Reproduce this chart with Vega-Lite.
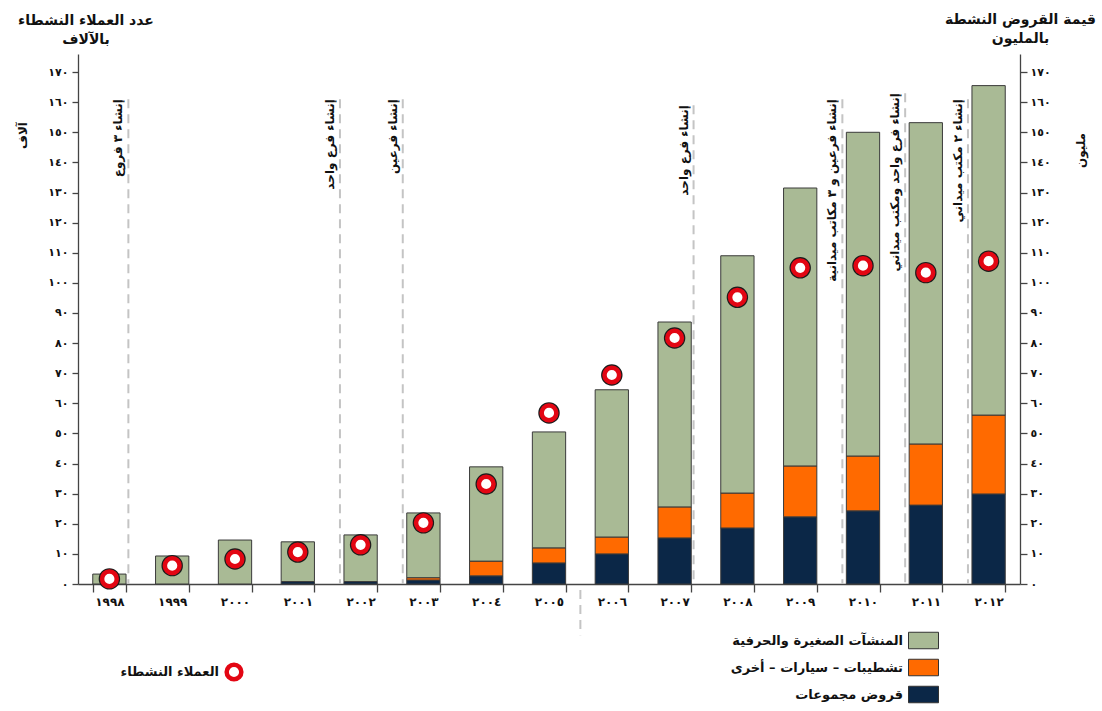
{
  "$schema": "https://vega.github.io/schema/vega-lite/v6.json",
  "width": 942,
  "height": 530,
  "autosize": "none",
  "padding": {"left": 78, "top": 54, "right": 82, "bottom": 127},
  "background": "white",
  "config": {
    "font": "DejaVu Sans",
    "view": {"stroke": null},
    "locale": {"number": {"decimal": "٫", "thousands": "٬", "grouping": [3], "currency": ["", ""], "numerals": ["٠", "١", "٢", "٣", "٤", "٥", "٦", "٧", "٨", "٩"]}},
    "axis": {"domainColor": "#444", "tickColor": "#444", "labelColor": "#111", "labelFontWeight": "bold", "labelFontSize": 11, "grid": false, "domainWidth": 1.3, "tickWidth": 1.3, "titleColor": "#111", "labelOverlap": false, "labelBound": false},
    "axisY": {"tickCount": 18, "labelOverlap": false},
    "legend": {"labelColor": "#111", "labelLimit": 0}
  },
  "title": {"text": ["عدد العملاء النشطاء", "بالآلاف"], "frame": "group", "anchor": "start", "align": "center", "dx": 8, "dy": 45, "offset": 10, "fontSize": 14, "fontWeight": "bold", "lineHeight": 19, "color": "#111"},
  "datasets": {
    "loans": [
      {"year": "١٩٩٨", "series": "المنشآت الصغيرة والحرفية", "value": 3.3},
      {"year": "١٩٩٩", "series": "المنشآت الصغيرة والحرفية", "value": 9.3},
      {"year": "٢٠٠٠", "series": "المنشآت الصغيرة والحرفية", "value": 14.6},
      {"year": "٢٠٠١", "series": "قروض مجموعات", "value": 0.8},
      {"year": "٢٠٠١", "series": "المنشآت الصغيرة والحرفية", "value": 13.2},
      {"year": "٢٠٠٢", "series": "قروض مجموعات", "value": 0.8},
      {"year": "٢٠٠٢", "series": "المنشآت الصغيرة والحرفية", "value": 15.5},
      {"year": "٢٠٠٣", "series": "قروض مجموعات", "value": 1.3},
      {"year": "٢٠٠٣", "series": "تشطيبات – سيارات – أخرى", "value": 0.8},
      {"year": "٢٠٠٣", "series": "المنشآت الصغيرة والحرفية", "value": 21.5},
      {"year": "٢٠٠٤", "series": "قروض مجموعات", "value": 2.7},
      {"year": "٢٠٠٤", "series": "تشطيبات – سيارات – أخرى", "value": 4.9},
      {"year": "٢٠٠٤", "series": "المنشآت الصغيرة والحرفية", "value": 31.3},
      {"year": "٢٠٠٥", "series": "قروض مجموعات", "value": 7},
      {"year": "٢٠٠٥", "series": "تشطيبات – سيارات – أخرى", "value": 5},
      {"year": "٢٠٠٥", "series": "المنشآت الصغيرة والحرفية", "value": 38.5},
      {"year": "٢٠٠٦", "series": "قروض مجموعات", "value": 10},
      {"year": "٢٠٠٦", "series": "تشطيبات – سيارات – أخرى", "value": 5.6},
      {"year": "٢٠٠٦", "series": "المنشآت الصغيرة والحرفية", "value": 48.9},
      {"year": "٢٠٠٧", "series": "قروض مجموعات", "value": 15.3},
      {"year": "٢٠٠٧", "series": "تشطيبات – سيارات – أخرى", "value": 10.3},
      {"year": "٢٠٠٧", "series": "المنشآت الصغيرة والحرفية", "value": 61.4},
      {"year": "٢٠٠٨", "series": "قروض مجموعات", "value": 18.6},
      {"year": "٢٠٠٨", "series": "تشطيبات – سيارات – أخرى", "value": 11.6},
      {"year": "٢٠٠٨", "series": "المنشآت الصغيرة والحرفية", "value": 78.8},
      {"year": "٢٠٠٩", "series": "قروض مجموعات", "value": 22.3},
      {"year": "٢٠٠٩", "series": "تشطيبات – سيارات – أخرى", "value": 16.9},
      {"year": "٢٠٠٩", "series": "المنشآت الصغيرة والحرفية", "value": 92.3},
      {"year": "٢٠١٠", "series": "قروض مجموعات", "value": 24.3},
      {"year": "٢٠١٠", "series": "تشطيبات – سيارات – أخرى", "value": 18.2},
      {"year": "٢٠١٠", "series": "المنشآت الصغيرة والحرفية", "value": 107.5},
      {"year": "٢٠١١", "series": "قروض مجموعات", "value": 26.2},
      {"year": "٢٠١١", "series": "تشطيبات – سيارات – أخرى", "value": 20.3},
      {"year": "٢٠١١", "series": "المنشآت الصغيرة والحرفية", "value": 106.7},
      {"year": "٢٠١٢", "series": "قروض مجموعات", "value": 29.9},
      {"year": "٢٠١٢", "series": "تشطيبات – سيارات – أخرى", "value": 26.2},
      {"year": "٢٠١٢", "series": "المنشآت الصغيرة والحرفية", "value": 109.4}
    ],
    "clients": [
      {"year": "١٩٩٨", "clients": 1.7},
      {"year": "١٩٩٩", "clients": 6.1},
      {"year": "٢٠٠٠", "clients": 8.3},
      {"year": "٢٠٠١", "clients": 10.6},
      {"year": "٢٠٠٢", "clients": 13},
      {"year": "٢٠٠٣", "clients": 20.3},
      {"year": "٢٠٠٤", "clients": 33.2},
      {"year": "٢٠٠٥", "clients": 56.8},
      {"year": "٢٠٠٦", "clients": 69.4},
      {"year": "٢٠٠٧", "clients": 81.7},
      {"year": "٢٠٠٨", "clients": 95.2},
      {"year": "٢٠٠٩", "clients": 105},
      {"year": "٢٠١٠", "clients": 105.7},
      {"year": "٢٠١١", "clients": 103.4},
      {"year": "٢٠١٢", "clients": 107.2}
    ],
    "notesAfter": [
      {"year": "١٩٩٨", "top": 161, "note": "إنشاء ٣ فروع"},
      {"year": "٢٠٠٧", "top": 159, "note": "إنشاء فرع واحد"}
    ],
    "notesBefore": [
      {"year": "٢٠٠٢", "top": 161, "note": "إنشاء فرع واحد"},
      {"year": "٢٠٠٣", "top": 161, "note": "إنشاء فرعين"},
      {"year": "٢٠١٠", "top": 161, "note": "إنشاء فرعين و ٣ مكاتب ميدانية"},
      {"year": "٢٠١١", "top": 163, "note": "إنشاء فرع واحد ومكتب ميداني"},
      {"year": "٢٠١٢", "top": 161, "note": "إنشاء ٢ مكتب ميداني"}
    ],
    "separator": [
      {"year": "٢٠٠٦", "from": -2, "to": -17}
    ]
  },
  "layer": [
    {
      "layer": [
        {
          "data": {"name": "loans"},
          "mark": {"type": "bar", "stroke": "#3a3a3a", "strokeWidth": 1},
          "encoding": {
            "x": {
              "field": "year", "type": "nominal",
              "scale": {"domain": ["١٩٩٨", "١٩٩٩", "٢٠٠٠", "٢٠٠١", "٢٠٠٢", "٢٠٠٣", "٢٠٠٤", "٢٠٠٥", "٢٠٠٦", "٢٠٠٧", "٢٠٠٨", "٢٠٠٩", "٢٠١٠", "٢٠١١", "٢٠١٢"], "paddingInner": 0.47, "paddingOuter": 0.235},
              "axis": {"title": "مليون", "titleAngle": 270, "titleX": 1002, "titleY": -434, "titleAlign": "center", "titleBaseline": "middle", "titleFontSize": 12, "titleFontWeight": "bold", "labelAngle": 0, "tickBand": "extent", "tickSize": 8, "labelPadding": 4, "labelFontSize": 12}
            },
            "y": {
              "field": "value", "type": "quantitative",
              "scale": {"domain": [0, 176], "nice": false},
              "axis": {"orient": "right", "values": [0, 10, 20, 30, 40, 50, 60, 70, 80, 90, 100, 110, 120, 130, 140, 150, 160, 170], "tickCount": 18, "labelOverlap": false, "title": ["قيمة القروض النشطة", "بالمليون"], "titleAngle": 0, "titleX": 0, "titleY": -28, "titleAlign": "center", "titleBaseline": "bottom", "titleLineHeight": 19, "titleFontSize": 14, "titleFontWeight": "bold", "tickSize": 7, "labelPadding": 3}
            },
            "color": {
              "field": "series", "type": "nominal",
              "scale": {"domain": ["المنشآت الصغيرة والحرفية", "تشطيبات – سيارات – أخرى", "قروض مجموعات"], "range": ["#A9BA95", "#FF6A00", "#0B2747"]},
              "legend": {"orient": "none", "legendX": 830, "legendY": 571, "title": null, "symbolType": "M-1,-0.55H1V0.55H-1Z", "symbolSize": 900, "symbolStrokeColor": "#333", "symbolStrokeWidth": 1, "symbolOpacity": 1, "labelAlign": "right", "labelOffset": -36, "labelFontSize": 13, "labelFontWeight": "bold", "labelLimit": 0, "rowPadding": 1, "padding": 0}
            }
          }
        },
        {
          "data": {"name": "notesAfter"},
          "mark": {"type": "rule", "strokeDash": [9, 6], "color": "#C4C4C4", "strokeWidth": 2},
          "encoding": {
            "x": {"field": "year", "type": "nominal", "bandPosition": 1.07},
            "y": {"field": "top", "type": "quantitative"},
            "y2": {"datum": 0}
          }
        },
        {
          "data": {"name": "notesBefore"},
          "mark": {"type": "rule", "strokeDash": [9, 6], "color": "#C4C4C4", "strokeWidth": 2},
          "encoding": {
            "x": {"field": "year", "type": "nominal", "bandPosition": -0.12},
            "y": {"field": "top", "type": "quantitative"},
            "y2": {"datum": 0}
          }
        },
        {
          "data": {"name": "separator"},
          "mark": {"type": "rule", "strokeDash": [9, 6], "color": "#C4C4C4", "strokeWidth": 2},
          "encoding": {
            "x": {"field": "year", "type": "nominal", "bandPosition": -0.444},
            "y": {"field": "from", "type": "quantitative"},
            "y2": {"field": "to"}
          }
        },
        {
          "data": {"name": "notesAfter"},
          "mark": {"type": "text", "angle": 270, "align": "right", "baseline": "bottom", "dy": -3, "fontSize": 12, "fontWeight": "bold", "color": "#111"},
          "encoding": {
            "x": {"field": "year", "type": "nominal", "bandPosition": 1.07},
            "y": {"field": "top", "type": "quantitative"},
            "text": {"field": "note"}
          }
        },
        {
          "data": {"name": "notesBefore"},
          "mark": {"type": "text", "angle": 270, "align": "right", "baseline": "bottom", "dy": -3, "fontSize": 12, "fontWeight": "bold", "color": "#111"},
          "encoding": {
            "x": {"field": "year", "type": "nominal", "bandPosition": -0.12},
            "y": {"field": "top", "type": "quantitative"},
            "text": {"field": "note"}
          }
        }
      ]
    },
    {
      "data": {"name": "clients"},
      "layer": [
        {
          "mark": {"type": "point", "shape": "circle", "filled": true, "color": "#1c1c1c", "size": 460, "opacity": 1},
          "encoding": {
            "x": {"field": "year", "type": "nominal"},
            "y": {
              "field": "clients", "type": "quantitative",
              "scale": {"domain": [0, 176], "nice": false},
              "axis": {"orient": "left", "values": [0, 10, 20, 30, 40, 50, 60, 70, 80, 90, 100, 110, 120, 130, 140, 150, 160, 170], "tickCount": 18, "labelOverlap": false, "title": "آلاف", "titleAngle": 270, "titleX": -56, "titleY": 81, "titleAlign": "center", "titleBaseline": "middle", "titleFontSize": 12, "titleFontWeight": "bold", "tickSize": 6, "labelPadding": 4}
            }
          }
        },
        {
          "mark": {"type": "point", "shape": "circle", "filled": true, "fill": "white", "strokeWidth": 4.5, "size": 215, "opacity": 1},
          "encoding": {
            "x": {"field": "year", "type": "nominal"},
            "y": {"field": "clients", "type": "quantitative"},
            "stroke": {
              "datum": "العملاء النشطاء", "type": "nominal",
              "scale": {"range": ["#E30613"]},
              "legend": {"orient": "none", "legendX": 146, "legendY": 608, "title": null, "symbolType": "circle", "symbolSize": 215, "symbolStrokeWidth": 4.5, "symbolFillColor": "white", "labelAlign": "right", "labelOffset": -25, "labelFontSize": 13, "labelFontWeight": "bold", "padding": 0}
            }
          }
        }
      ]
    }
  ],
  "resolve": {"scale": {"y": "independent"}}
}
